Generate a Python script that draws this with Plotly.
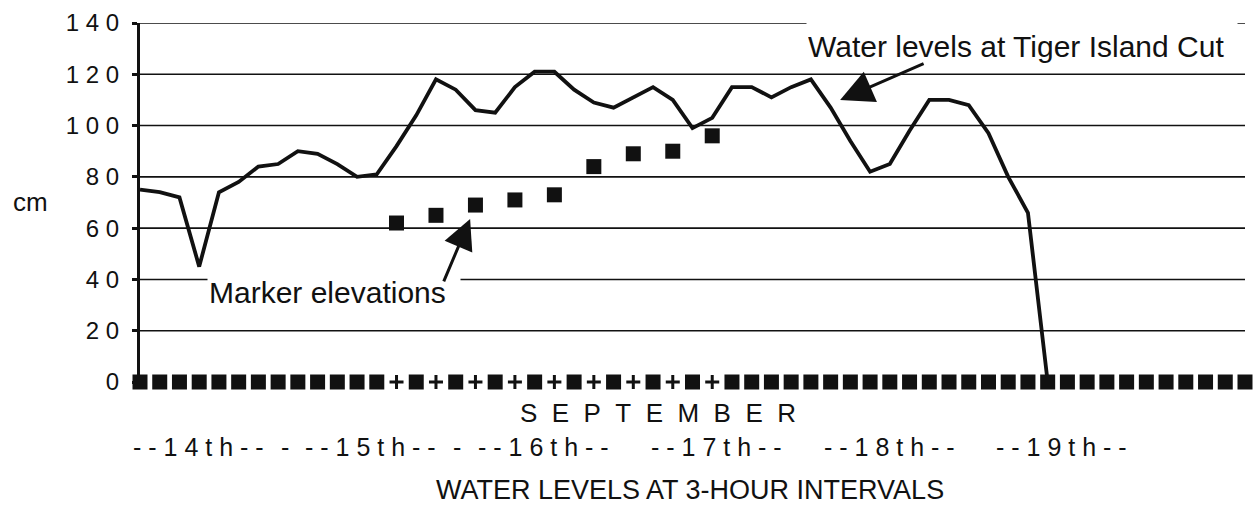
import plotly.graph_objects as go

# 3-hour interval index (0 = start of 14th Sept)
intervals = list(range(57))

# Water levels at Tiger Island Cut (cm), intervals 0..46
water_cm = [75, 74, 72, 45, 74, 78, 84, 85, 90, 89, 85, 80, 81, 92, 104, 118,
            114, 106, 105, 115, 121, 121, 114, 109, 107, 111, 115, 110, 99, 103,
            115, 115, 111, 115, 118, 107, 94, 82, 85, 98, 110, 110, 108, 97, 80,
            66, 0]

# Marker elevations (cm); 0 where no marker was read
marker_cm = [0, 0, 0, 0, 0, 0, 0, 0, 0, 0, 0, 0, 0, 62, 0, 65, 0, 69, 0, 71,
             0, 73, 0, 84, 0, 89, 0, 90, 0, 96, 0, 0, 0, 0, 0, 0, 0, 0, 0, 0,
             0, 0, 0, 0, 0, 0, 0, 0, 0, 0, 0, 0, 0, 0, 0, 0, 0]

# third (empty) series plotted as "+" at zero
plus_idx = [13, 15, 17, 19, 21, 23, 25, 27, 29]
plus_cm = [0, 0, 0, 0, 0, 0, 0, 0, 0]

y_ticks = [0, 20, 40, 60, 80, 100, 120, 140]
grid_vals = [20, 40, 60, 80, 100, 120, 140]
day_labels = ["14th", "15th", "16th", "17th", "18th", "19th"]

FONT = "Liberation Sans, Arial, Helvetica, sans-serif"
INK = "#111111"
NB = "\u00a0"

y_ticktext = [NB.join(str(v)) for v in y_ticks]

fig = go.Figure()
fig.add_trace(go.Scatter(x=intervals[:len(water_cm)], y=water_cm, mode="lines",
                         line=dict(color=INK, width=3.8), cliponaxis=False,
                         name="Water levels at Tiger Island Cut"))
fig.add_trace(go.Scatter(x=intervals, y=marker_cm, mode="markers",
                         marker=dict(symbol="square", size=15, color=INK),
                         cliponaxis=False, name="Marker elevations"))
fig.add_trace(go.Scatter(x=plus_idx, y=plus_cm, mode="markers",
                         marker=dict(symbol="cross-thin", size=10,
                                     line=dict(color=INK, width=3)),
                         cliponaxis=False, name="+"))

shapes = [dict(type="line", xref="x", yref="y", x0=0, x1=intervals[-1], y0=v, y1=v,
               line=dict(color=INK, width=1.6), layer="below") for v in grid_vals]

# page pixel -> paper coordinates (plot area spans page x 140..1245, y 23..382)
def pxx(px):
    return (px - 140) / 1105.0

def pxy(py):
    return (382 - py) / 359.0

def ann(text, px, py, size, **kw):
    d = dict(text=text, x=pxx(px), y=pxy(py), xref="paper", yref="paper",
             xanchor="center", yanchor="middle", showarrow=False,
             font=dict(size=size, family=FONT, color=INK))
    d.update(kw)
    return d

month = (NB * 2).join("SEPTEMBER")
day_centers_px = [198, 370, 543, 716, 889, 1061]

annotations = [
    ann("cm", 30, 202, 26),
    ann(month, 658, 413, 26),
    ann("WATER LEVELS AT 3-HOUR INTERVALS", 690, 490, 27),
]
for lab, cx in zip(day_labels, day_centers_px):
    annotations.append(ann(NB.join("--" + lab + "--"), cx, 447, 25))
# extra dashes between the first days
annotations.append(ann("-", 285, 447, 25))
annotations.append(ann("-", 457, 447, 25))

annotations += [
    dict(text="Water levels at Tiger Island Cut", x=pxx(806), y=pxy(20),
         xref="paper", yref="paper", xanchor="left", yanchor="top", align="left",
         width=428, height=48, valign="middle", bgcolor="white", showarrow=False,
         font=dict(size=30, family=FONT, color=INK)),
    dict(text="Marker elevations", x=pxx(207), y=pxy(272),
         xref="paper", yref="paper", xanchor="left", yanchor="top", align="left",
         width=250, height=36, valign="middle", bgcolor="white", showarrow=False,
         font=dict(size=30, family=FONT, color=INK)),
    # arrows
    dict(text="", x=35.48, y=110, xref="x", yref="y", ax=85, ay=-37,
         showarrow=True, arrowhead=2, arrowsize=2.2, arrowwidth=3, arrowcolor=INK,
         standoff=0),
    dict(text="", x=16.73, y=63.6, xref="x", yref="y", ax=-27, ay=64,
         showarrow=True, arrowhead=2, arrowsize=2.0, arrowwidth=3, arrowcolor=INK,
         standoff=0),
]

fig.update_layout(
    width=1260, height=510, autosize=False,
    margin=dict(l=140, r=15, t=23, b=128, pad=0),
    paper_bgcolor="white", plot_bgcolor="white",
    showlegend=False,
    shapes=shapes, annotations=annotations,
    xaxis=dict(range=[0, intervals[-1]], visible=False, fixedrange=True,
               automargin=False),
    yaxis=dict(range=[0, 140], tickvals=y_ticks, ticktext=y_ticktext,
               showgrid=False, zeroline=False, showline=True, linewidth=3,
               linecolor=INK, ticks="outside", ticklen=5, tickwidth=3,
               tickcolor=INK, ticklabelstandoff=8, automargin=False,
               fixedrange=True,
               tickfont=dict(size=24, family=FONT, color=INK)),
)

# remove the browser's default 8px page margin so the figure fills the window
fig.write_html("out.html",
               config={"displayModeBar": False, "staticPlot": False},
               post_script="document.body.style.margin='0px';"
                           "document.body.style.overflow='hidden';")
